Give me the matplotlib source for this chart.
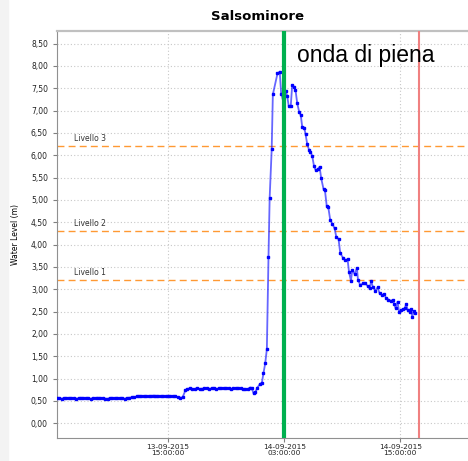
import pandas as pd
import matplotlib.pyplot as plt
import matplotlib.dates as mdates
from matplotlib.ticker import FuncFormatter, MultipleLocator
from matplotlib.patches import Rectangle

# hours after 13-09-2015 00:00 and water level (m)
base_hours = [3.5, 3.75, 4.0, 4.25, 4.5, 4.75, 5.0, 5.25, 5.5, 5.75, 6.0, 6.25, 6.5, 6.75,
              7.0, 7.25, 7.5, 7.75, 8.0, 8.25, 8.5, 8.75, 9.0, 9.25, 9.5, 9.75, 10.0, 10.25,
              10.5, 10.75, 11.0, 11.25, 11.5, 11.75, 12.0, 12.25, 12.5, 12.75, 13.0, 13.25,
              13.5, 13.75, 14.0, 14.25, 14.5, 14.75, 15.0, 15.25, 15.5, 15.75, 16.0, 16.25, 16.5,
              16.8, 17.0, 17.25, 17.5, 17.75, 18.0, 18.25, 18.5, 18.75, 19.0, 19.25, 19.5, 19.75,
              20.0, 20.25, 20.5, 20.75, 21.0, 21.25, 21.5, 21.75, 22.0, 22.25, 22.5, 22.75, 23.0,
              23.25, 23.5]
base_level = [0.56, 0.56, 0.55, 0.56, 0.56, 0.57, 0.56, 0.56, 0.55, 0.56, 0.57, 0.56, 0.56, 0.56,
              0.55, 0.56, 0.56, 0.57, 0.56, 0.56, 0.55, 0.55, 0.56, 0.56, 0.56, 0.57, 0.56, 0.56,
              0.55, 0.56, 0.57, 0.58, 0.58, 0.60, 0.60, 0.60, 0.61, 0.60, 0.60, 0.61, 0.62, 0.61,
              0.60, 0.60, 0.61, 0.60, 0.60, 0.60, 0.61, 0.60, 0.58, 0.57, 0.58,
              0.74, 0.77, 0.78, 0.77, 0.77, 0.78, 0.77, 0.77, 0.78, 0.78, 0.77, 0.78, 0.78,
              0.77, 0.78, 0.78, 0.79, 0.78, 0.78, 0.77, 0.78, 0.79, 0.78, 0.78, 0.77, 0.76,
              0.77, 0.80]

flood_hours = [23.66, 23.83, 24.0, 24.24, 24.47, 24.70, 24.86, 25.04, 25.21, 25.38, 25.50,
               25.71, 25.83, 26.31, 26.54, 26.69, 26.85, 27.14, 27.31, 27.47, 27.68, 27.83,
               28.02, 28.17, 28.35, 28.55, 28.71, 28.87, 29.07, 29.21, 29.38, 29.57, 29.72,
               29.90, 30.08, 30.24, 30.45, 30.66, 30.83, 31.07, 31.21, 31.40, 31.55, 31.76,
               31.97, 32.21, 32.38, 32.62, 32.80, 33.07, 33.31, 33.55, 33.70, 33.90, 34.04,
               34.28, 34.52, 34.63, 34.87, 35.15, 35.38, 35.62, 35.83, 36.00, 36.18, 36.42,
               36.66, 36.86, 37.11, 37.35, 37.52, 37.76, 38.04, 38.25, 38.38, 38.52, 38.72,
               38.87, 39.08, 39.28, 39.45, 39.62, 39.76, 39.97, 40.11, 40.24, 40.38, 40.48]
flood_level = [0.78, 0.67, 0.69, 0.80, 0.87, 0.91, 1.12, 1.34, 1.66, 3.73, 5.05,
               6.13, 7.36, 7.83, 7.87, 7.38, 7.27, 7.44, 7.33, 7.10, 7.10, 7.57,
               7.53, 7.46, 7.16, 6.97, 6.90, 6.63, 6.62, 6.47, 6.25, 6.12, 6.08,
               5.98, 5.76, 5.67, 5.68, 5.74, 5.48, 5.24, 5.22, 4.86, 4.85, 4.55,
               4.47, 4.36, 4.18, 4.12, 3.80, 3.71, 3.65, 3.67, 3.39, 3.19, 3.43,
               3.34, 3.47, 3.21, 3.09, 3.13, 3.13, 3.07, 3.02, 3.18, 3.04, 2.97,
               3.04, 2.91, 2.87, 2.89, 2.80, 2.77, 2.74, 2.76, 2.67, 2.57, 2.72,
               2.50, 2.53, 2.55, 2.57, 2.67, 2.53, 2.50, 2.55, 2.38, 2.51, 2.47]

thresholds = [3.2, 4.3, 6.2]
threshold_labels = ['Livello 1', 'Livello 2', 'Livello 3']
flood_start_hour = 27.0
flood_end_hour = 40.95
tick_hours = [15, 27, 39]

t0 = pd.Timestamp('2015-09-13 00:00:00')
to_time = lambda hs: [t0 + pd.Timedelta(hours=h) for h in hs]

times = to_time(base_hours + flood_hours)
levels = base_level + flood_level

fig = plt.figure(figsize=(4.68, 4.61), dpi=100)
fig.patches.append(Rectangle((0, 0), 8 / 468, 1, transform=fig.transFigure,
                             color='#f3f3f3', zorder=0))
ax = fig.add_axes([57 / 468, 1 - 438 / 461, 1 - 57 / 468, (438 - 31) / 461])

ax.plot(times, levels, color='#0000ff', lw=1.3, alpha=0.6, zorder=3)
ax.plot(times, levels, ls='none', marker='s', ms=1.7, color='#0000ff', zorder=4)

for y, lab in zip(thresholds, threshold_labels):
    ax.axhline(y, color='#ff9933', lw=1, dashes=(5, 3), zorder=2)
    ax.text(t0 + pd.Timedelta(hours=5.3), y + 0.08, lab, fontsize=5.5, color='#333333',
            va='bottom', ha='left')

ax.axvline(t0 + pd.Timedelta(hours=flood_start_hour), color='#00b04f', lw=3, zorder=5)
ax.axvline(t0 + pd.Timedelta(hours=flood_end_hour), color='#f08080', lw=1.5, zorder=5)

ax.set_xlim(t0 + pd.Timedelta(hours=3.52), t0 + pd.Timedelta(hours=46.0))
ax.set_ylim(-0.33, 8.78)
ax.set_xticks(to_time(tick_hours))
ax.xaxis.set_major_formatter(mdates.DateFormatter('%d-%m-%Y\n%H:%M:%S'))
ax.yaxis.set_major_locator(MultipleLocator(0.5))
ax.yaxis.set_major_formatter(FuncFormatter(lambda v, p: f'{v:.2f}'.replace('.', ',')))

ax.grid(True, color='#c8c8c8', ls=(0, (1, 2)), lw=0.8)
ax.tick_params(labelsize=5.5, colors='#808080', labelcolor='#222222', length=3, width=0.8)
ax.tick_params(axis='x', labelsize=5.3, pad=1)
for lbl in ax.get_xticklabels():
    lbl.set_linespacing(1.0)
for s in ['left', 'bottom']:
    ax.spines[s].set_color('#909090')
ax.spines['top'].set_color('#c0c0c0')
ax.spines['top'].set_linewidth(1.6)
ax.spines['right'].set_visible(False)

ax.set_ylabel('Water Level (m)', fontsize=5.5, labelpad=8)
fig.text((57 + 468) / 2 / 468 - 0.01, 1 - 17 / 461, 'Salsominore', fontsize=9.5,
         fontweight='bold', ha='center', va='center')
fig.text(297 / 468, 1 - 62 / 461, 'onda di piena', fontsize=16.5, family='Liberation Sans',
         ha='left', va='baseline')

fig.savefig('out.png', dpi=100)
